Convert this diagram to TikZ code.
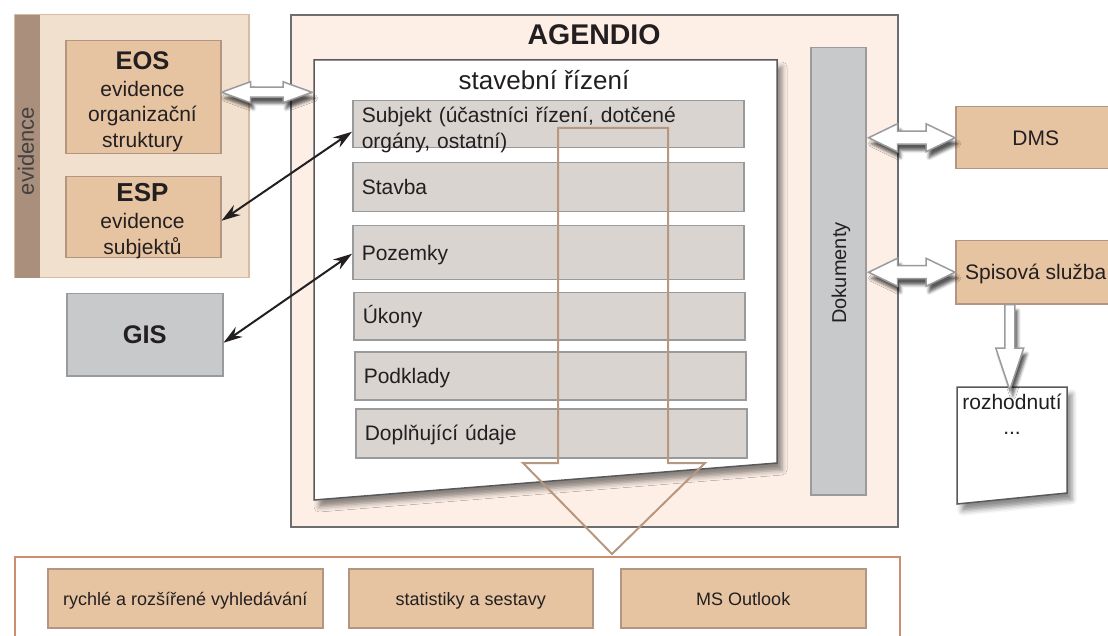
\documentclass[tikz,border=0pt]{standalone}
\usepackage{fontspec}
\setmainfont{Liberation Sans}
\usepackage{graphicx}
\usetikzlibrary{calc,arrows.meta,shadows.blur}

\definecolor{txt}{HTML}{231F20}
\definecolor{evfill}{HTML}{F1E0CD}
\definecolor{evborder}{HTML}{D8BBA2}
\definecolor{evstrip}{HTML}{A98F7C}
\definecolor{tanfill}{HTML}{E6C4A2}
\definecolor{tanborder}{HTML}{B29682}
\definecolor{agfill}{HTML}{FDEFE6}
\definecolor{agborder}{HTML}{6D6E70}
\definecolor{rowfill}{HTML}{D9D4D0}
\definecolor{rowborder}{HTML}{999A9C}
\definecolor{grayfill}{HTML}{C8C9CB}
\definecolor{grayborder}{HTML}{9A9B9D}
\definecolor{bigarrow}{HTML}{B8977F}
\definecolor{bottomborder}{HTML}{CC8E70}
\definecolor{docborder}{HTML}{58595B}

\newcommand\hdbl[4]{%
  \draw[warrow] (#1) -- ($(#1)+(29,-#3)$) -- ($(#1)+(29,-#4)$) -- ($(#2)+(-29,-#4)$) -- ($(#2)+(-29,-#3)$) -- (#2) -- ($(#2)+(-29,#3)$) -- ($(#2)+(-29,#4)$) -- ($(#1)+(29,#4)$) -- ($(#1)+(29,#3)$) -- cycle;}

\begin{document}
\begin{tikzpicture}[x=1pt,y=-1pt,
  every node/.style={text=txt, inner sep=0pt},
  f21/.style={font=\fontsize{21}{25.6}\selectfont},
  tanbox/.style={draw=tanborder, fill=tanfill, line width=1.5pt, anchor=north west},
  graybox/.style={draw=grayborder, fill=grayfill, line width=1.5pt, anchor=north west},
  rowbox/.style={draw=rowborder, fill=rowfill, line width=1.5pt, anchor=north west,
    inner xsep=9pt, inner ysep=0pt, align=left, f21, minimum width=391,
    text width=373, text height=15.4pt, text depth=0pt},
  boxtext/.style={align=center, f21},
  onetext/.style={text height=15pt, text depth=0pt},
  docshape/.style={fill=white, draw=docborder, line width=1.5pt,
    blur shadow={shadow xshift=5pt, shadow yshift=-7pt, shadow blur radius=5pt, shadow opacity=45}},
  warrow/.style={fill=white, draw=grayborder, line width=1.5pt, line join=miter,
    blur shadow={shadow xshift=3pt, shadow yshift=-6pt, shadow blur radius=3pt, shadow opacity=65}},
  biarrow/.style={draw=txt, line width=2pt, {Stealth[length=19pt,width=12pt]}-{Stealth[length=19pt,width=12pt]}},
  bigarr/.style={draw=bigarrow, line width=2pt, line join=miter},
  bbox/.style={tanbox, minimum height=59, font=\fontsize{18}{22}\selectfont, onetext}
]
\useasboundingbox (0,0) rectangle (1108,636);

% ---------- evidence group ----------
\node[draw=evborder, fill=evfill, line width=1.5pt, minimum width=234, minimum height=263, anchor=north west] (evid) at (14,14) {};
\fill[evstrip] ([shift={(0.75pt,-0.75pt)}]evid.north west) rectangle ([shift={(26pt,0.75pt)}]evid.south west);
\node[rotate=90, font=\fontsize{22}{26}\selectfont, text=txt!85] (evlabel) at (26,151) {evidence};

\node[tanbox, minimum width=155, minimum height=113] (eos) at (65,40) {};
\node[boxtext, anchor=north] (eostext) at (142.5,51) {{\fontsize{25.5}{26}\selectfont\bfseries EOS}\\[2.2pt]evidence\\[-0.6pt]organizační\\struktury};

\node[tanbox, minimum width=155, minimum height=81] (esp) at (65,176) {};
\node[boxtext, anchor=north] (esptext) at (142.5,183.5) {{\fontsize{26}{26}\selectfont\bfseries ESP}\\[1.5pt]evidence\\subjektů};

\node[graybox, minimum width=156, minimum height=82, font=\fontsize{25.5}{28}\selectfont\bfseries] (gis) at (66,293) {GIS};

% ---------- AGENDIO ----------
\node[draw=agborder, fill=agfill, line width=2pt, minimum width=607, minimum height=512, anchor=north west] (ag) at (290,14) {};
\node[font=\fontsize{28.5}{30}\selectfont\bfseries, anchor=base] (agtitle) at (594,45) {AGENDIO};

\draw[docshape] (314,60) coordinate (srnw) -- (777,60) -- (777,463) -- (314,500) -- cycle;
\node[font=\fontsize{26}{30}\selectfont, anchor=base] (srtitle) at (544,90) {stavební řízení};

\node[rowbox, minimum height=47, text height=15.4pt, text depth=19pt] (subj) at (352,100) {Subjekt (účastníci řízení, dotčené\\orgány, ostatní)};
\node[rowbox, minimum height=49] (stavba) at (352,162) {Stavba};
\node[rowbox, minimum height=54] (poz) at (352,225) {Pozemky};
\node[rowbox, minimum height=47] (ukony) at (353,292) {Úkony};
\node[rowbox, minimum height=48] (podk) at (354,351) {Podklady};
\node[rowbox, minimum height=49] (dopl) at (355,408) {Doplňující údaje};

\node[graybox, minimum width=55, minimum height=447] (dok) at (810,47) {};
\node[rotate=90, font=\fontsize{20}{24}\selectfont] (doktext) at (841,273) {Dokumenty};

% ---------- right side ----------
\node[tanbox, minimum width=160, minimum height=62, f21, onetext] (dms) at (955,106) {DMS};
\node[tanbox, minimum width=160, minimum height=63, f21, onetext] (spis) at (955,240) {Spisová služba};

\draw[docshape] (957,387) coordinate (rznw) -- (1067,387) -- (1067,493) -- (957,504) -- cycle;
\node[boxtext, anchor=north, font=\fontsize{21}{25}\selectfont] (rozh) at (1012,394) {rozhodnutí\\...};

% ---------- bottom ----------
\node[draw=bottomborder, fill=white, line width=2pt, minimum width=885, minimum height=100, anchor=north west] (bottom) at (14,556) {};
\node[bbox, minimum width=275] (vyhl) at (47,568) {rychlé a rozšířené vyhledávání};
\node[bbox, minimum width=244] (stat) at (348,568) {statistiky a sestavy};
\node[bbox, minimum width=245] (outl) at (620,568) {MS Outlook};

% ---------- connectors ----------
\coordinate (eosR) at ([yshift=5pt]eos.east);
\coordinate (srL) at ([xshift=-2pt]srnw |- eosR);
\hdbl{eosR}{srL}{10.5}{5}

\coordinate (dokR1) at ([xshift=2pt]dok.east |- dms.west);
\hdbl{dokR1}{dms.west}{14}{6.5}
\coordinate (dokR2) at ([xshift=2pt]dok.east |- spis.west);
\hdbl{dokR2}{spis.west}{14}{6.5}

\coordinate (d1) at ([xshift=-26pt]spis.south);
\coordinate (dt) at ([yshift=-3pt]d1 |- rznw);
\draw[warrow] ($(d1)+(-5,0)$) -- ($(d1)+(5,0)$) -- ($(dt)+(5,-42)$) -- ($(dt)+(14,-42)$) -- (dt) -- ($(dt)+(-14,-42)$) -- ($(dt)+(-5,-42)$) -- cycle;

\draw[biarrow] ([yshift=-3.5pt]esp.east) -- ([yshift=-7.5pt]subj.west);
\draw[biarrow] ([yshift=-8pt]gis.east) -- ([yshift=-1pt]poz.west);

\draw[bigarr] (558,128) -- (668,128) -- (668,463) -- (705,463) -- (612,554) -- (523,463) -- (558,463) -- cycle;
\end{tikzpicture}
\end{document}
